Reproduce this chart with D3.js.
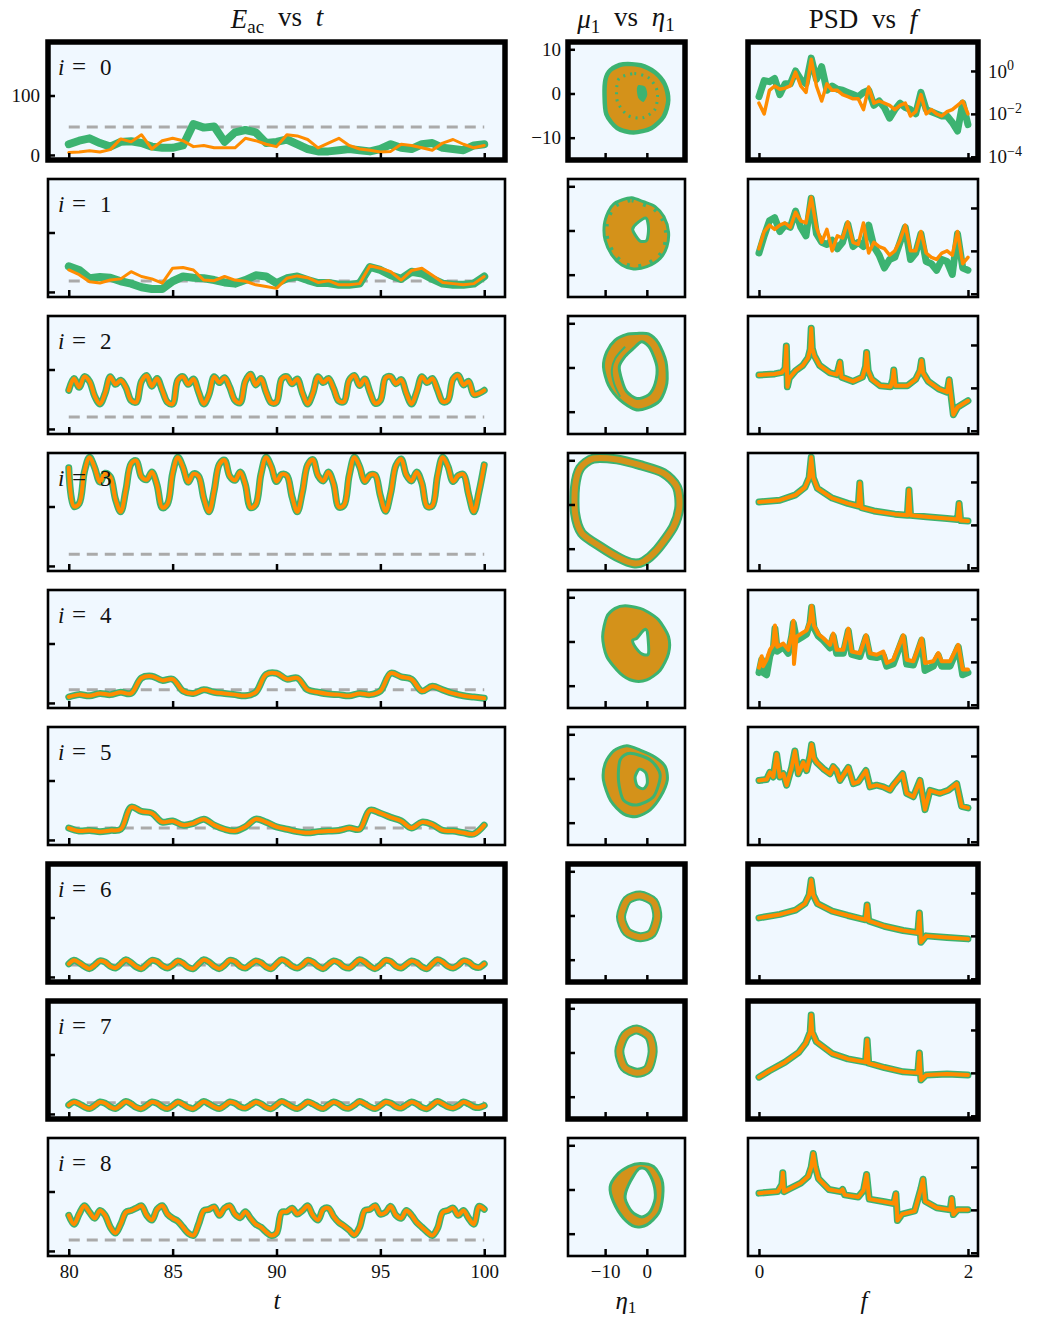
<!DOCTYPE html>
<html>
<head>
<meta charset="utf-8">
<title>E_ac, phase portraits and PSD</title>
<script src="https://d3js.org/d3.v7.min.js"></script>
<style>
  body { margin: 0; background: #fff; }
  text { font-family: "Liberation Serif", "DejaVu Serif", serif; fill: #111; }
</style>
</head>
<body>
<svg id="fig" width="1043" height="1318"></svg>
<script>
// ---------- data ----------
const rows = [0, 1, 2, 3, 4, 5, 6, 7, 8];
const thickRows = [0, 6, 7];
const tTicks = [80, 85, 90, 95, 100];
const eTicks = [0, 100];
const etaTicks = [-10, 0];
const muTicks = [-10, 0, 10];
const fTicks = [0, 2];
const psdTicks = [1, 1e-2, 1e-4];

// reference (dashed) level of E_ac per row
const eacRef = [47, 18.5, 20, 19.5, 22, 20, 20, 19, 18.5];

// E_ac(t), t from 80 to 100, evenly spaced samples
const eac0Green = [18,24,28,20,14,22,23,20,14,12,12,16,52,46,48,22,38,42,38,20,22,26,18,10,6,6,8,10,8,6,10,18,12,10,18,20,12,10,8,16,18];
const eac0Orange = [4,5,7,5,9,27,22,34,10,24,28,24,14,16,12,12,12,28,24,18,14,34,32,26,12,20,28,16,10,8,5,6,18,16,12,8,20,26,18,12,16];
const eac1Green = [43,37,23,25,24,18,14,8,5,5,18,26,24,23,20,16,14,20,28,26,15,23,26,20,15,15,12,12,14,42,37,28,22,34,31,22,14,12,12,14,26];
const eac1Orange = [37,29,17,15,20,22,34,26,22,15,40,41,37,20,19,26,20,18,12,9,6,23,27,24,16,19,12,12,14,44,40,34,20,36,40,28,16,14,12,14,26];
const eac2 = [65,85,70,88,80,55,42,60,88,75,82,70,48,45,80,90,72,85,65,45,42,82,88,75,84,62,42,58,88,78,86,70,48,44,80,92,74,85,62,44,45,84,88,76,84,60,42,60,88,78,85,68,47,46,82,90,73,84,62,43,48,86,88,76,83,60,42,62,88,78,85,66,46,48,84,90,74,80,58,60,65];
const eac3 = [165,100,105,158,183,165,141,156,150,112,91,128,172,177,150,145,158,136,98,104,156,183,166,141,155,151,114,91,127,171,178,151,144,158,137,98,103,154,183,167,142,154,152,116,91,125,170,179,152,143,158,138,99,102,152,183,167,142,153,153,118,92,123,169,180,153,143,158,139,100,101,151,183,168,142,152,154,120,91,125,170];
const eac4 = [10,14,12,16,14,18,16,42,45,38,40,20,16,22,18,16,14,12,18,48,50,40,42,22,18,15,14,12,16,14,20,50,44,40,20,28,22,16,12,10,8];
const eac5 = [20,15,16,14,16,18,55,48,45,30,32,25,28,35,25,18,15,22,35,30,22,18,14,12,14,15,16,20,18,50,45,38,32,20,30,26,16,15,12,10,25];
const eac6 = [22,28,24,18,14,20,27,25,18,15,22,29,24,17,14,21,28,26,19,15,20,27,23,16,14,22,29,25,18,14,20,28,26,18,15,21,27,24,17,14,22,29,25,18,15,20,28,25,18,14,21,27,24,17,15,22,29,25,18,14,20,28,26,18,15,21,27,24,17,14,22,29,25,18,15,20,27,25,18,16,22];
const eac7 = [15,20,17,12,9,14,20,18,12,9,15,21,17,11,9,14,20,18,12,9,14,20,16,11,9,15,21,17,12,9,14,20,18,12,10,15,20,17,11,9,15,21,17,12,9,14,20,17,12,9,15,20,17,11,10,15,21,17,12,9,14,20,18,12,10,15,20,17,11,9,15,21,17,12,10,14,20,17,12,11,14];
const eac8 = [60,45,62,76,65,55,68,60,40,30,45,65,68,72,76,60,52,70,76,62,55,50,40,30,26,45,68,70,74,60,72,76,62,56,66,55,45,40,32,26,30,65,66,72,62,68,76,60,52,70,72,58,48,42,35,27,40,68,70,76,62,65,75,60,55,68,60,48,40,32,26,38,65,68,72,60,68,55,45,75,70];

// phase portraits (eta_1, mu_1): outer edge, hole, or a single loop
const ring0Outer = [[-8.4,4.9],[-5.6,6.1],[-1.6,5.9],[1.6,4.4],[3.8,1.9],[4.6,-1.5],[3.6,-4.9],[0.8,-7.4],[-3.2,-8.3],[-6.8,-7.4],[-9.2,-4.5],[-9.6,-0.3],[-9.4,3.0]];
const ring0Inner = [[-2.0,1.9],[-0.4,1.5],[0.1,-0.3],[-0.8,-1.9],[-2.0,-1.1],[-2.4,0.8]];
const ring0Dots = [[-6.5,3.5],[-3.0,4.5],[0.5,3.5],[2.5,0.5],[2.0,-3.5],[-1.0,-5.5],[-4.5,-5.0],[-7.0,-2.0],[-7.2,1.5]];
const ring1Outer = [[-6.0,6.9],[-3.6,7.4],[-0.8,6.5],[2.0,5.4],[4.1,3.1],[5.2,-0.3],[4.8,-3.7],[3.2,-6.3],[0.0,-8.2],[-3.2,-8.7],[-6.0,-7.8],[-8.4,-5.5],[-10.0,-2.2],[-10.2,1.3],[-9.2,4.3],[-7.9,6.0]];
const ring1Inner = [[-2.4,1.6],[-0.2,2.8],[0.4,0.5],[0.0,-2.2],[-1.6,-2.4],[-2.8,-1.0],[-3.4,0.3]];
const ring2Outer = [[-2.4,7.7],[0.4,7.6],[2.8,5.5],[4.6,1.3],[4.8,-3.6],[3.2,-7.4],[0.0,-9.2],[-2.8,-9.5],[-6.4,-7.4],[-9.2,-4.0],[-10.4,0.2],[-9.6,3.6],[-7.6,6.2],[-4.8,7.5]];
const ring2Inner = [[-1.2,5.8],[0.8,4.3],[2.4,0.2],[2.0,-3.6],[0.4,-6.2],[-2.4,-7.0],[-4.8,-5.5],[-6.0,-2.8],[-6.6,0.2],[-5.2,2.5],[-3.2,4.3]];
const ring2Strand = [[-5.2,4.7],[-7.6,2.0],[-8.4,-0.6],[-7.8,-3.8],[-6.4,-6.6]];
const ring3Loop = [[-12.8,10.4],[-7.2,10.2],[-1.6,8.9],[4.0,7.1],[7.2,4.0],[7.8,-0.5],[6.4,-5.0],[2.4,-10.3],[-0.8,-12.9],[-3.2,-13.3],[-6.4,-12.2],[-11.2,-9.5],[-15.6,-6.5],[-17.2,-2.0],[-17.2,4.0],[-16.0,8.2]];
const ring4Outer = [[-5.2,8.1],[-1.6,7.5],[0.0,6.8],[2.8,4.9],[5.2,1.1],[5.2,-2.7],[3.2,-6.5],[0.0,-8.7],[-3.2,-8.9],[-6.4,-7.2],[-9.6,-3.4],[-10.6,1.1],[-9.6,5.6],[-7.6,7.5]];
const ring4Inner = [[-2.4,0.7],[-0.7,2.6],[0.1,2.2],[0.4,-2.7],[-1.2,-2.8],[-2.8,-1.2],[-3.4,0.3]];
const ring5Outer = [[-4.8,7.4],[-1.6,6.4],[2.0,4.8],[4.4,2.7],[4.9,-0.4],[3.3,-4.1],[0.8,-7.1],[-2.4,-8.6],[-5.6,-8.0],[-8.7,-5.0],[-10.4,-0.4],[-10.0,3.4],[-7.9,6.3]];
const ring5Inner = [[-1.8,2.1],[-0.2,1.2],[0.1,-1.1],[-0.8,-2.3],[-2.3,-1.7],[-2.8,0.3]];
const ring5Loop = [[-6.4,4.2],[-4.0,5.7],[0.8,4.2],[3.2,0.8],[1.6,-4.1],[-2.4,-6.0],[-5.6,-4.9],[-6.8,-0.4]];
const ring6Loop = [[-1.6,4.5],[1.6,3.1],[2.5,-0.3],[1.2,-4.0],[-1.6,-4.9],[-4.8,-3.7],[-6.2,-0.3],[-4.7,3.5]];
const ring7Loop = [[-2.4,5.2],[0.6,3.6],[1.4,0.2],[0.3,-3.6],[-2.4,-4.6],[-5.4,-3.3],[-6.6,0.3],[-5.2,3.9]];
const ring8Outer = [[-4.4,5.2],[-1.6,5.9],[1.6,5.2],[3.6,2.2],[3.8,-1.6],[2.8,-5.4],[0.0,-8.0],[-2.8,-8.4],[-5.6,-6.5],[-8.0,-2.8],[-8.8,0.6],[-7.2,3.3]];
const ring8Inner = [[-2.0,4.6],[0.0,4.4],[1.6,1.4],[2.0,-2.0],[0.8,-5.0],[-1.2,-6.2],[-3.6,-5.0],[-5.2,-2.0],[-4.4,1.0]];

// PSD: log10 values. rows 0/1 evenly spaced in f from 0 to 2, others [f, log10 PSD]
const psd0Green = [-1.2,-0.45,-0.5,-0.35,-1.1,-0.6,-0.6,0.0,-0.4,-0.6,0.6,-0.4,0.2,-0.9,-0.7,-0.85,-0.9,-1.0,-1.1,-1.2,-1.0,-0.9,-1.6,-1.4,-1.7,-2.2,-1.8,-1.5,-1.7,-1.8,-2.0,-1.0,-1.8,-1.9,-2.0,-2.1,-2.1,-2.4,-2.8,-1.5,-2.5];
const psd0Orange = [-1.5,-2.0,-0.9,-0.7,-0.85,-0.8,-0.7,-0.05,-0.7,-1.0,0.55,-0.7,-1.4,-0.6,-0.9,-0.9,-1.1,-1.2,-1.3,-1.3,-1.8,-0.75,-1.5,-1.4,-1.5,-1.6,-1.8,-1.6,-1.5,-2.1,-1.9,-1.1,-2.0,-1.8,-2.0,-2.1,-1.9,-1.8,-1.6,-1.4,-2.0];
const psd1Green = [-2.1,-1.3,-0.6,-0.45,-1.1,-0.8,-0.9,-0.15,-0.9,-1.3,0.45,-1.2,-1.6,-1.7,-1.5,-1.9,-1.6,-0.75,-1.8,-1.6,-1.8,-0.8,-1.8,-2.2,-2.8,-2.4,-2.3,-1.6,-0.9,-2.4,-2.1,-1.2,-2.5,-2.6,-2.9,-2.4,-2.5,-3.1,-1.2,-2.8,-2.9];
const psd1Orange = [-1.9,-1.1,-0.8,-1.0,-0.8,-0.7,-0.9,-0.2,-0.6,-0.7,0.5,-0.9,-1.6,-1.0,-2.0,-1.3,-1.4,-0.65,-1.6,-1.7,-0.7,-2.1,-1.6,-1.8,-1.9,-2.2,-2.0,-1.5,-0.8,-2.0,-2.0,-1.1,-2.1,-2.3,-2.4,-2.1,-2.0,-2.2,-1.1,-2.6,-2.3];
const psd2 = [[0,-1.40],[0.15,-1.35],[0.22,-1.28],[0.25,-1.1],[0.262,-0.05],[0.272,-1.95],[0.29,-1.55],[0.35,-1.2],[0.42,-0.95],[0.47,-0.6],[0.49,-0.2],[0.50,0.78],[0.51,-0.15],[0.53,-0.5],[0.58,-0.95],[0.68,-1.3],[0.745,-1.38],[0.775,-0.8],[0.79,-1.5],[0.9,-1.7],[0.99,-1.5],[1.02,-1.0],[1.03,-0.35],[1.045,-1.2],[1.08,-1.6],[1.16,-1.9],[1.26,-1.95],[1.28,-1.6],[1.29,-1.17],[1.305,-1.9],[1.42,-1.9],[1.50,-1.6],[1.54,-1.2],[1.556,-0.72],[1.57,-1.3],[1.62,-1.7],[1.72,-2.05],[1.80,-2.2],[1.82,-1.62],[1.86,-3.25],[1.90,-2.9],[2.00,-2.6]];
const psd3 = [[0,-0.93],[0.2,-0.85],[0.35,-0.6],[0.44,-0.25],[0.48,0.2],[0.50,1.15],[0.52,0.2],[0.56,-0.3],[0.7,-0.75],[0.85,-1.0],[0.95,-1.12],[0.965,-0.05],[0.98,-1.2],[1.1,-1.35],[1.3,-1.5],[1.42,-1.55],[1.435,-0.37],[1.45,-1.55],[1.6,-1.62],[1.8,-1.7],[1.9,-1.75],[1.915,-1.0],[1.93,-1.8],[2.0,-1.82]];
const psd4Green = [[0,-2.5],[0.026,-1.9],[0.04,-2.5],[0.073,-2.6],[0.105,-1.7],[0.137,-1.4],[0.153,-0.45],[0.175,-1.5],[0.233,-1.3],[0.28,-1.6],[0.313,-0.8],[0.329,-0.2],[0.36,-1.0],[0.408,-0.85],[0.456,-0.7],[0.488,-0.2],[0.504,0.55],[0.526,-0.4],[0.568,-0.8],[0.616,-1.0],[0.68,-1.35],[0.711,-0.8],[0.743,-1.6],[0.807,-1.6],[0.855,-0.55],[0.887,-1.65],[0.966,-1.75],[1.024,-0.85],[1.062,-1.75],[1.126,-1.8],[1.19,-1.7],[1.222,-2.2],[1.285,-2.1],[1.381,-0.85],[1.413,-2.1],[1.477,-2.15],[1.557,-1.0],[1.589,-2.4],[1.668,-2.2],[1.716,-1.7],[1.748,-2.2],[1.828,-2.2],[1.907,-1.3],[1.949,-2.6],[2.0,-2.5]];
const psd4Orange = [[0,-2.27],[0.026,-1.74],[0.04,-2.2],[0.073,-1.9],[0.105,-1.44],[0.137,-1.21],[0.153,-0.3],[0.175,-1.3],[0.233,-1.15],[0.28,-1.44],[0.313,-0.68],[0.329,-0.08],[0.335,-2.1],[0.36,-0.83],[0.408,-0.68],[0.456,-0.53],[0.488,-0.1],[0.504,0.6],[0.526,-0.3],[0.568,-0.7],[0.616,-0.9],[0.68,-1.21],[0.711,-0.68],[0.743,-1.44],[0.807,-1.44],[0.855,-0.45],[0.887,-1.52],[0.966,-1.6],[1.024,-0.76],[1.062,-1.6],[1.126,-1.67],[1.19,-1.52],[1.222,-2.05],[1.285,-1.9],[1.381,-0.76],[1.413,-1.9],[1.477,-1.97],[1.557,-0.91],[1.589,-2.05],[1.668,-1.97],[1.716,-1.59],[1.748,-1.97],[1.828,-1.97],[1.907,-1.21],[1.949,-2.35],[2.0,-2.35]];
const psd5 = [[0,-1.14],[0.073,-1.1],[0.105,-0.76],[0.137,-0.98],[0.169,0.08],[0.2,-0.98],[0.233,-0.83],[0.265,-1.36],[0.313,-0.53],[0.344,0.23],[0.376,-0.83],[0.424,-0.3],[0.456,-0.68],[0.488,0.0],[0.504,0.53],[0.526,-0.1],[0.552,-0.3],[0.616,-0.6],[0.68,-0.83],[0.711,-0.5],[0.743,-0.68],[0.775,-1.14],[0.855,-0.53],[0.903,-1.29],[0.951,-1.21],[1.024,-0.68],[1.062,-1.44],[1.126,-1.36],[1.19,-1.44],[1.254,-1.59],[1.285,-1.36],[1.375,-0.83],[1.413,-1.74],[1.477,-1.9],[1.541,-1.14],[1.589,-2.5],[1.636,-1.6],[1.732,-1.74],[1.812,-1.6],[1.892,-1.29],[1.939,-2.35],[2.0,-2.42]];
const psd6 = [[0,-1.16],[0.2,-1.0],[0.35,-0.8],[0.44,-0.5],[0.48,-0.1],[0.50,0.6],[0.52,-0.1],[0.56,-0.5],[0.7,-0.85],[0.85,-1.05],[1.02,-1.25],[1.035,-0.56],[1.05,-1.3],[1.2,-1.55],[1.38,-1.75],[1.52,-1.85],[1.535,-0.93],[1.55,-2.3],[1.6,-2.0],[1.8,-2.08],[2.0,-2.14]];
const psd7 = [[0,-2.2],[0.1,-1.9],[0.25,-1.5],[0.38,-1.05],[0.45,-0.6],[0.49,-0.1],[0.50,0.7],[0.51,-0.1],[0.55,-0.55],[0.7,-1.1],[0.85,-1.35],[1.02,-1.5],[1.035,-0.47],[1.05,-1.55],[1.2,-1.75],[1.38,-1.95],[1.52,-2.0],[1.535,-1.07],[1.55,-2.33],[1.6,-2.1],[1.8,-2.05],[2.0,-2.1]];
const psd8 = [[0,-1.22],[0.18,-1.14],[0.22,-0.8],[0.228,-0.27],[0.24,-1.15],[0.3,-1.0],[0.4,-0.75],[0.47,-0.45],[0.50,0.0],[0.52,0.63],[0.54,0.0],[0.57,-0.55],[0.67,-1.05],[0.78,-1.15],[0.80,-1.05],[0.82,-1.3],[0.95,-1.4],[1.0,-1.1],[1.03,-0.35],[1.055,-1.5],[1.2,-1.62],[1.29,-1.7],[1.31,-1.25],[1.325,-2.5],[1.37,-2.2],[1.49,-2.05],[1.55,-1.0],[1.57,-0.57],[1.59,-1.6],[1.7,-1.9],[1.83,-2.0],[1.845,-1.47],[1.86,-2.22],[1.9,-2.0],[2.0,-2.0]];

const eacSeries = [[eac0Green, eac0Orange], [eac1Green, eac1Orange], [eac2, eac2], [eac3, eac3], [eac4, eac4], [eac5, eac5], [eac6, eac6], [eac7, eac7], [eac8, eac8]];
const rings = [
  {outer: ring0Outer, inner: ring0Inner, dots: ring0Dots},
  {outer: ring1Outer, inner: ring1Inner, teeth: true},
  {outer: ring2Outer, inner: ring2Inner, strand: ring2Strand},
  {loop: ring3Loop},
  {outer: ring4Outer, inner: ring4Inner},
  {outer: ring5Outer, inner: ring5Inner, extra: ring5Loop},
  {loop: ring6Loop},
  {loop: ring7Loop},
  {outer: ring8Outer, inner: ring8Inner}
];
const psdSeries = [[psd0Green, psd0Orange], [psd1Green, psd1Orange], [psd2, psd2], [psd3, psd3], [psd4Green, psd4Orange], [psd5, psd5], [psd6, psd6], [psd7, psd7], [psd8, psd8]];

// ---------- layout ----------
const GREEN = "#3cb371", ORANGE = "#ff8c00", MIX = "#d4921a", BG = "#f0f8ff", DASH = "#aaaaaa";
const FONT = "Liberation Serif, DejaVu Serif, serif";
const colE = [48, 505], colM = [568, 685], colP = [748, 978];
const top0 = 42, pitch = 137, ph = 118;

const svg = d3.select("#fig");
const defs = svg.append("defs");

const xT = d3.scaleLinear().domain([79, 101]).range(colE);
const xEta = d3.scaleLinear().domain([-18.9, 9.15]).range(colM);
const xF = d3.scaleLinear().domain([-0.105, 2.096]).range(colP);

// panel background + clipped group for the marks
function panel(x, T, id) {
  defs.append("clipPath").attr("id", id)
    .append("rect").attr("x", x[0]).attr("y", T).attr("width", x[1] - x[0]).attr("height", ph);
  svg.append("rect").attr("x", x[0]).attr("y", T).attr("width", x[1] - x[0]).attr("height", ph).attr("fill", BG);
  return svg.append("g").attr("clip-path", `url(#${id})`);
}

function frame(x, T, bw) {
  svg.append("rect").attr("x", x[0]).attr("y", T).attr("width", x[1] - x[0]).attr("height", ph)
    .attr("fill", "none").attr("stroke", "#000").attr("stroke-width", bw);
}

function styleAxis(g) {
  g.select(".domain").remove();
  g.selectAll(".tick line").attr("stroke", "#000").attr("stroke-width", 2.5);
  g.selectAll(".tick text").attr("font-size", 19).attr("font-family", FONT).attr("fill", "#111");
}

const minus = s => String(s).replace("-", "\u2212");

rows.forEach(r => {
  const T = top0 + pitch * r, B = T + ph;
  const last = r === rows.length - 1;
  const bw = thickRows.includes(r) ? 5.5 : 2.6;

  // ---- E_ac vs t ----
  const yE = d3.scaleLinear().domain([-8.5, 190]).range([B, T]);
  const gE = panel(colE, T, "clipE" + r);
  gE.append("line").attr("x1", xT(80)).attr("x2", xT(100)).attr("y1", yE(eacRef[r])).attr("y2", yE(eacRef[r]))
    .attr("stroke", DASH).attr("stroke-width", 3).attr("stroke-dasharray", "11,7");
  const [eg, eo] = eacSeries[r];
  const smooth = r >= 2;
  const lineOf = arr => d3.line()
    .x((d, i) => xT(80 + 20 * i / (arr.length - 1)))
    .y(d => yE(d))
    .curve(smooth ? d3.curveCatmullRom : d3.curveLinear)(arr);
  gE.append("path").attr("d", lineOf(eg)).attr("fill", "none").attr("stroke", GREEN)
    .attr("stroke-width", r < 2 ? 8 : 7).attr("stroke-linejoin", "round").attr("stroke-linecap", "round");
  gE.append("path").attr("d", lineOf(eo)).attr("fill", "none").attr("stroke", ORANGE)
    .attr("stroke-width", r < 2 ? 3 : 4).attr("stroke-linejoin", "round").attr("stroke-linecap", "round");

  const axB = svg.append("g").attr("transform", `translate(0,${B})`)
    .call(d3.axisBottom(xT).tickValues(tTicks).tickSizeInner(-7).tickSizeOuter(0).tickPadding(9)
      .tickFormat(last ? d3.format("d") : () => ""));
  styleAxis(axB);
  const axL = svg.append("g").attr("transform", `translate(${colE[0]},0)`)
    .call(d3.axisLeft(yE).tickValues(eTicks).tickSizeInner(-7).tickSizeOuter(0).tickPadding(8)
      .tickFormat(r === 0 ? d3.format("d") : () => ""));
  styleAxis(axL);

  // row label "i = r"
  const lab = svg.append("g").attr("font-size", 23);
  lab.append("text").attr("x", 58).attr("y", T + 33).attr("font-style", "italic").attr("font-size", 23).text("i");
  lab.append("text").attr("x", 72).attr("y", T + 33).attr("font-size", 25).text("=");
  lab.append("text").attr("x", 100).attr("y", T + 33).attr("font-size", 23).text(r);
  frame(colE, T, bw);

  // ---- mu_1 vs eta_1 ----
  const yMu = d3.scaleLinear().domain([-15.05, 11.65]).range([B, T]);
  const gM = panel(colM, T, "clipM" + r);
  const ring = rings[r];
  const closed = d3.line().x(d => xEta(d[0])).y(d => yMu(d[1])).curve(d3.curveCardinalClosed.tension(0.2));
  const open = d3.line().x(d => xEta(d[0])).y(d => yMu(d[1])).curve(d3.curveCatmullRom);
  if (ring.loop) {
    gM.append("path").attr("d", closed(ring.loop)).attr("fill", "none").attr("stroke", GREEN).attr("stroke-width", 10);
    gM.append("path").attr("d", closed(ring.loop)).attr("fill", "none").attr("stroke", MIX).attr("stroke-width", 6);
  } else {
    gM.append("path").attr("d", closed(ring.outer) + closed(ring.inner))
      .attr("fill", MIX).attr("fill-rule", "evenodd")
      .attr("stroke", GREEN).attr("stroke-width", r === 0 ? 9 : 3).attr("stroke-linejoin", "round");
    if (r === 0) {
      gM.append("path").attr("d", closed(ring.outer)).attr("fill", MIX).attr("stroke", "none");
      gM.append("path").attr("d", closed(ring.inner)).attr("fill", GREEN);
    }
    if (ring.dots) {
      gM.append("path").attr("d", closed(ring.dots)).attr("fill", "none").attr("stroke", GREEN)
        .attr("stroke-width", 3).attr("stroke-dasharray", "2,5");
    }
    if (ring.teeth) {
      defs.append("clipPath").attr("id", "teeth" + r).append("path").attr("d", closed(ring.outer));
      gM.append("g").attr("clip-path", `url(#teeth${r})`)
        .append("path").attr("d", closed(ring.outer)).attr("fill", "none").attr("stroke", GREEN)
        .attr("stroke-width", 9).attr("stroke-dasharray", "3,10");
    }
    if (ring.strand) {
      gM.append("path").attr("d", open(ring.strand)).attr("fill", "none").attr("stroke", GREEN).attr("stroke-width", 2);
    }
    if (ring.extra) {
      gM.append("path").attr("d", closed(ring.extra)).attr("fill", "none").attr("stroke", GREEN).attr("stroke-width", 3);
    }
  }
  const axMB = svg.append("g").attr("transform", `translate(0,${B})`)
    .call(d3.axisBottom(xEta).tickValues(etaTicks).tickSizeInner(-7).tickSizeOuter(0).tickPadding(9)
      .tickFormat(last ? d => minus(d) : () => ""));
  styleAxis(axMB);
  const axML = svg.append("g").attr("transform", `translate(${colM[0]},0)`)
    .call(d3.axisLeft(yMu).tickValues(muTicks).tickSizeInner(-7).tickSizeOuter(0).tickPadding(7)
      .tickFormat(r === 0 ? d => minus(d) : () => ""));
  styleAxis(axML);
  frame(colM, T, bw);

  // ---- PSD vs f ----
  const yP = d3.scaleLog().domain([Math.pow(10, -4.15), Math.pow(10, 1.35)]).range([B, T]);
  const gP = panel(colP, T, "clipP" + r);
  const [pg, po] = psdSeries[r];
  const toPairs = arr => Array.isArray(arr[0]) ? arr : arr.map((v, i) => [2 * i / (arr.length - 1), v]);
  const psdLine = d3.line().x(d => xF(d[0])).y(d => yP(Math.pow(10, d[1])));
  gP.append("path").attr("d", psdLine(toPairs(pg))).attr("fill", "none").attr("stroke", GREEN)
    .attr("stroke-width", 7).attr("stroke-linejoin", "round").attr("stroke-linecap", "round");
  gP.append("path").attr("d", psdLine(toPairs(po))).attr("fill", "none").attr("stroke", ORANGE)
    .attr("stroke-width", r < 2 ? 3.5 : 4).attr("stroke-linejoin", "round").attr("stroke-linecap", "round");
  const axPB = svg.append("g").attr("transform", `translate(0,${B})`)
    .call(d3.axisBottom(xF).tickValues(fTicks).tickSizeInner(-7).tickSizeOuter(0).tickPadding(9)
      .tickFormat(last ? d3.format("d") : () => ""));
  styleAxis(axPB);
  const axPR = svg.append("g").attr("transform", `translate(${colP[1]},0)`)
    .call(d3.axisRight(yP).tickValues(psdTicks).tickSizeInner(-7).tickSizeOuter(0).tickPadding(10)
      .tickFormat(() => ""));
  styleAxis(axPR);
  if (r === 0) {
    axPR.selectAll(".tick text").each(function(d) {
      const t = d3.select(this);
      t.text("10");
      t.append("tspan").attr("dy", "-0.55em").attr("font-size", 14).text(minus(Math.round(Math.log10(d))));
    });
  }
  frame(colP, T, bw);
});

// ---------- titles and axis labels ----------
function title(x, y, parts, size) {
  const t = svg.append("text").attr("x", x).attr("y", y).attr("text-anchor", "middle")
    .attr("font-size", size).attr("word-spacing", 7);
  parts.forEach(p => {
    const s = t.append("tspan").text(p.s);
    if (p.i) s.attr("font-style", "italic");
    if (p.sub) s.attr("font-size", size * 0.7).attr("dy", "0.25em");
    if (p.back) s.attr("dy", "-0.25em");
  });
}
title(277, 28, [{s: "E", i: 1}, {s: "ac", sub: 1}, {s: " vs ", back: 1}, {s: "t", i: 1}], 27);
title(626, 28, [{s: "\u03bc", i: 1}, {s: "1", sub: 1}, {s: " vs ", back: 1}, {s: "\u03b7", i: 1}, {s: "1", sub: 1}], 27);
title(863, 28, [{s: "PSD vs "}, {s: "f", i: 1}], 27);
title(277, 1309, [{s: "t", i: 1}], 25);
title(626, 1309, [{s: "\u03b7", i: 1}, {s: "1", sub: 1}], 25);
title(864, 1309, [{s: "f", i: 1}], 25);
</script>
</body>
</html>
